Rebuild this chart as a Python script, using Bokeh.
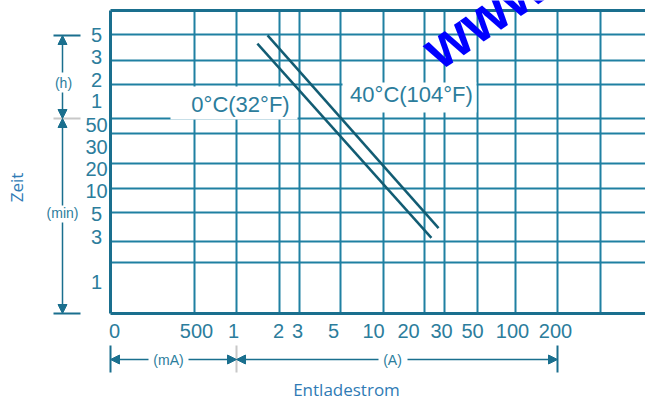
import numpy as np
from bokeh.plotting import figure
from bokeh.models import Range1d, Arrow, NormalHead
from bokeh.core.properties import value
from bokeh.embed import file_html
from bokeh.resources import INLINE

# ---------------- data ----------------
x_tick_labels = ["0", "500", "1", "2", "3", "5", "10", "20", "30", "50", "100", "200"]
x_grid_amps = [0.0, 0.5, 1, 2, 3, 5, 10, 20, 30, 50, 100, 200, 400]
y_tick_labels = ["5", "3", "2", "1", "50", "30", "20", "10", "5", "3", "1"]
y_grid_minutes = [300, 180, 120, 50, 30, 20, 10, 5, 3, 2]
series_names = ["0°C(32°F)", "40°C(104°F)"]
current_start_A = [1.40, 1.65]
current_end_A = [23.0, 26.6]
time_start_min = [251, 295]
time_end_min = [3.2, 3.8]

# ---------------- layout of the hand-drawn scale (chart units) ----------------
X_GRID_POS = [0, 84, 126, 169, 189, 230, 273, 314, 334, 367, 405, 447, 490]
Y_GRID_POS = [24, 50, 74, 108, 123, 153, 178, 202, 231, 252]
X_LABEL_POS = [4, 86, 123, 168, 187, 223, 263, 298, 331, 362, 402, 445]
Y_LABEL_POS = [24, 46, 69, 90, 114, 136, 158, 180, 203, 226, 271]
FRAME_BOTTOM = 303
XMAX = 535

GRID = "#1f80a2"
BORDER = "#1a6f8e"
SERIES = "#125c73"
TICK = "#2c7d9c"
TITLE = "#2f7bb5"
FONT = value("Liberation Sans")


def x_of(a):
    return np.interp(np.log10(a), np.log10(x_grid_amps[2:]), X_GRID_POS[2:])


def y_of(m):
    return np.interp(-np.log10(m), -np.log10(y_grid_minutes), Y_GRID_POS)


p = figure(width=645, height=401, x_range=Range1d(-110, XMAX), y_range=Range1d(391, -10),
           x_axis_location=None, y_axis_location=None, toolbar_location=None,
           output_backend="svg", min_border=0, outline_line_color=None,
           background_fill_color="white", border_fill_color="white")
p.grid.grid_line_color = None

# grid
vx = X_GRID_POS[1:]
p.segment(x0=vx, y0=[0] * len(vx), x1=vx, y1=[FRAME_BOTTOM] * len(vx),
          line_color=GRID, line_width=2)
p.segment(x0=[0] * len(Y_GRID_POS), y0=Y_GRID_POS, x1=[XMAX] * len(Y_GRID_POS), y1=Y_GRID_POS,
          line_color=GRID, line_width=2)
# borders
p.segment(x0=[0, 0, 0], y0=[0, 0, FRAME_BOTTOM], x1=[XMAX, 0, XMAX], y1=[0, FRAME_BOTTOM, FRAME_BOTTOM],
          line_color=BORDER, line_width=3)

# label boxes
p.quad(left=[60, 232], right=[187, 366], top=[76, 72], bottom=[109, 102],
       fill_color="white", line_color=None)

# series
p.segment(x0=x_of(current_start_A), y0=y_of(time_start_min),
          x1=x_of(current_end_A), y1=y_of(time_end_min),
          line_color=SERIES, line_width=2.5)
p.text(x=[130, 301], y=[94, 84], text=series_names, text_font=FONT, text_font_size="22px",
       text_color=TICK, text_align="center", text_baseline="middle")

# tick labels
p.text(x=X_LABEL_POS, y=[320] * len(X_LABEL_POS), text=x_tick_labels, text_font=FONT,
       text_font_size="20px", text_color=TICK, text_align="center", text_baseline="middle")
p.text(x=[-14] * len(Y_LABEL_POS), y=Y_LABEL_POS, text=y_tick_labels, text_font=FONT,
       text_font_size="20px", text_color=TICK, text_align="center", text_baseline="middle")

# left range indicators
p.segment(x0=[-57, -57, -57], y0=[25, 108, 303], x1=[-30, -30, -30], y1=[25, 108, 303],
          line_color=[BORDER, "#c8c8c8", BORDER], line_width=2)
for (xs, ys, xe, ye) in [(-48, 62, -48, 25), (-48, 82, -48, 108),
                         (-48, 195, -48, 108), (-48, 212, -48, 303)]:
    p.add_layout(Arrow(end=NormalHead(size=9, fill_color=BORDER, line_color=BORDER),
                       x_start=xs, y_start=ys, x_end=xe, y_end=ye,
                       line_color=BORDER, line_width=1.5))
p.text(x=[-47, -48], y=[72, 202], text=["(h)", "(min)"], text_font=FONT, text_font_size="14px",
       text_color=TICK, text_align="center", text_baseline="middle")

# bottom range indicators
p.segment(x0=[0, 126, 447], y0=[335, 335, 335], x1=[0, 126, 447], y1=[362, 362, 362],
          line_color=[BORDER, "#c8c8c8", BORDER], line_width=2)
for (xs, ys, xe, ye) in [(38, 349, 0, 349), (78, 349, 126, 349),
                         (268, 349, 126, 349), (297, 349, 447, 349)]:
    p.add_layout(Arrow(end=NormalHead(size=9, fill_color=BORDER, line_color=BORDER),
                       x_start=xs, y_start=ys, x_end=xe, y_end=ye,
                       line_color=BORDER, line_width=1.5))
p.text(x=[58, 282], y=[349, 349], text=["(mA)", "(A)"], text_font=FONT, text_font_size="14px",
       text_color=TICK, text_align="center", text_baseline="middle")

# axis titles
p.text(x=[236], y=[379], text=["Entladestrom"], text_font=value("Open Sans"), text_font_size="17px",
       text_color=TITLE, text_align="center", text_baseline="middle")
p.text(x=[-94], y=[177], text=["Zeit"], angle=np.pi / 2, text_font=value("Open Sans"),
       text_font_size="17px", text_color=TITLE, text_align="center", text_baseline="middle")

# watermark
p.text(x=[318], y=[44], text=["www"], angle=0.6, text_font=FONT, text_font_style="bold",
       text_font_size="58px", text_color="#0000ff", text_align="left", text_baseline="middle")

open("out.html", "w").write(file_html(p, INLINE))
